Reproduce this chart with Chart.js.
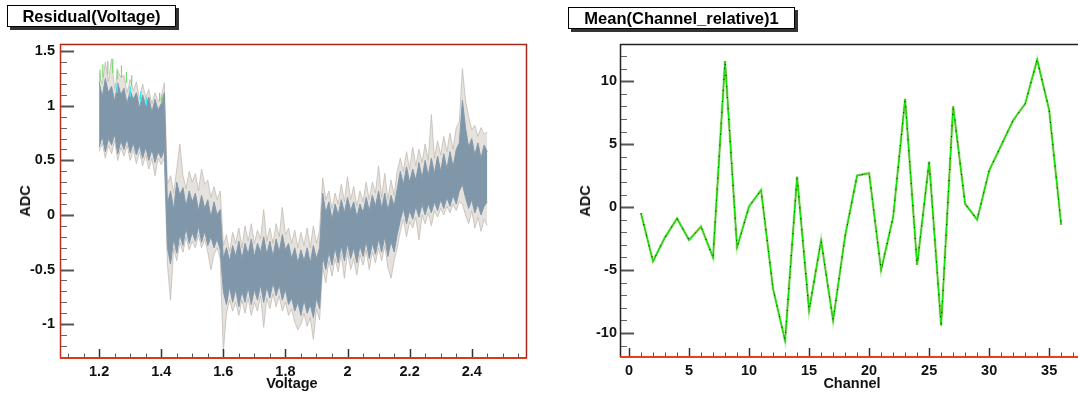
<!DOCTYPE html>
<html>
<head>
<meta charset="utf-8">
<script src="https://cdn.jsdelivr.net/npm/chart.js@4.4.1/dist/chart.umd.min.js"></script>
<style>
  html, body { margin: 0; padding: 0; background: #fff; }
  #wrap { position: relative; width: 1078px; height: 395px; overflow: hidden; font-family: "Liberation Sans", Arial, sans-serif; }
  canvas { position: absolute; top: 0; }
  .title { position: absolute; box-sizing: border-box; height: 22px; line-height: 20px; border: 1px solid #000;
    background: #fff; box-shadow: 3px 3px 0 #333; font-weight: bold; font-size: 16.5px; text-align: center; color: #000; }
  .axt { position: absolute; font-weight: bold; font-size: 14.5px; color: #111; white-space: nowrap; transform: translate(-50%, -50%); }
  .rot { transform: translate(-50%, -50%) rotate(-90deg); }
</style>
</head>
<body>
<div id="wrap">
  <canvas id="left" width="540" height="395" style="left:0"></canvas>
  <canvas id="right" width="538" height="395" style="left:540px"></canvas>
  <div class="title" style="left:7px;top:5px;width:169px">Residual(Voltage)</div>
  <div class="title" style="left:568px;top:7px;width:227px">Mean(Channel_relative)1</div>
  <div class="axt rot" style="left:25px;top:201px">ADC</div>
  <div class="axt" style="left:292px;top:383px">Voltage</div>
  <div class="axt rot" style="left:585px;top:201px">ADC</div>
  <div class="axt" style="left:852px;top:383px">Channel</div>
</div>
<script>
// left panel: residual band
const voltage = [
  1.20, 1.21, 1.22, 1.23, 1.24, 1.25, 1.26, 1.27, 1.28, 1.29,
  1.30, 1.31, 1.32, 1.33, 1.34, 1.35, 1.36, 1.37, 1.38, 1.39,
  1.40, 1.41, 1.42, 1.43, 1.44, 1.45, 1.46, 1.47, 1.48, 1.49,
  1.50, 1.51, 1.52, 1.53, 1.54, 1.55, 1.56, 1.57, 1.58, 1.59,
  1.60, 1.61, 1.62, 1.63, 1.64, 1.65, 1.66, 1.67, 1.68, 1.69,
  1.70, 1.71, 1.72, 1.73, 1.74, 1.75, 1.76, 1.77, 1.78, 1.79,
  1.80, 1.81, 1.82, 1.83, 1.84, 1.85, 1.86, 1.87, 1.88, 1.89,
  1.90, 1.91, 1.92, 1.93, 1.94, 1.95, 1.96, 1.97, 1.98, 1.99,
  2.00, 2.01, 2.02, 2.03, 2.04, 2.05, 2.06, 2.07, 2.08, 2.09,
  2.10, 2.11, 2.12, 2.13, 2.14, 2.15, 2.16, 2.17, 2.18, 2.19,
  2.20, 2.21, 2.22, 2.23, 2.24, 2.25, 2.26, 2.27, 2.28, 2.29,
  2.30, 2.31, 2.32, 2.33, 2.34, 2.35, 2.36, 2.37, 2.38, 2.39,
  2.40, 2.41, 2.42, 2.43, 2.44, 2.45
];
// outer spikes (max / min over all traces)
const residMax = [
  1.30, 1.20, 1.40, 1.22, 1.43, 1.15, 1.32, 1.26, 1.28, 1.12, 1.24, 1.14, 1.22, 1.06, 1.20, 1.08, 1.15, 1.02, 1.12, 1.04, 1.08, 1.21,
  0.28, 0.36, 0.20, 0.42, 0.65, 0.36, 0.24, 0.40, 0.30, 0.38, 0.22, 0.42, 0.28, 0.32, 0.16, 0.26, 0.14, 0.22,
  -0.28, -0.18, -0.34, -0.16, -0.26, -0.12, -0.30, -0.10, -0.24, -0.08, -0.26, -0.14, -0.22, 0.05, -0.24, -0.12,
  -0.26, -0.08, -0.20, 0.07, -0.18, -0.12, -0.26, -0.14, -0.30, -0.16, -0.28, -0.12, -0.30, -0.10, -0.26, -0.14,
  0.34, 0.14, 0.22, 0.06, 0.20, 0.10, 0.28, 0.12, 0.35, 0.14, 0.26, 0.08, 0.22, 0.12, 0.30, 0.14, 0.30, 0.20, 0.45, 0.16, 0.38, 0.14, 0.32, 0.18, 0.40,
  0.52, 0.40, 0.58, 0.42, 0.62, 0.45, 0.60, 0.48, 0.65, 0.50, 0.92, 0.52, 0.68, 0.55, 0.72, 0.58, 0.75, 0.60, 0.80, 0.85,
  1.34, 1.05, 0.90, 0.78, 0.82, 0.72, 0.80, 0.74, 0.76
];
const residMin = [
  0.58, 0.66, 0.52, 0.64, 0.56, 0.68, 0.50, 0.62, 0.54, 0.64, 0.50, 0.60, 0.47, 0.58, 0.45, 0.55, 0.42, 0.52, 0.36, 0.52, 0.46, 0.52,
  -0.45, -0.78, -0.30, -0.42, -0.25, -0.34, -0.20, -0.32, -0.24, -0.30, -0.18, -0.30, -0.22, -0.34, -0.50, -0.36, -0.30, -0.40,
  -1.25, -0.90, -0.78, -0.88, -0.80, -0.92, -0.78, -0.90, -0.76, -0.92, -0.80, -0.88, -0.74, -1.03, -0.76, -0.86,
  -0.72, -0.84, -0.74, -0.88, -0.80, -0.92, -0.86, -0.98, -1.05, -1.00, -0.90, -1.02, -0.94, -1.14, -0.86, -0.96,
  -0.48, -0.62, -0.42, -0.56, -0.40, -0.52, -0.36, -0.58, -0.34, -0.50, -0.40, -0.55, -0.36, -0.46, -0.32, -0.50, -0.34, -0.44, -0.30, -0.42, -0.28, -0.48, -0.58, -0.42, -0.30,
  -0.15, -0.04, -0.20, -0.06, -0.12, -0.02, -0.23, 0.00, -0.08, 0.02, -0.10, 0.04, -0.02, 0.06, 0.00, 0.08, 0.02, 0.10, 0.04, 0.12,
  0.10, 0.00, -0.08, 0.04, -0.12, -0.02, -0.15, -0.04, -0.10
];
// dense core of the traces
const coreHigh = [
  1.22, 1.08, 1.25, 1.12, 1.18, 1.04, 1.21, 1.10, 1.16, 1.02, 1.14, 1.06, 1.12, 0.98, 1.10, 1.00, 1.08, 0.94, 1.06, 0.96, 1.02, 1.12,
  0.10, 0.22, 0.05, 0.30, 0.18, 0.25, 0.08, 0.22, 0.12, 0.20, 0.04, 0.18, 0.06, 0.14, -0.02, 0.12, 0.00, 0.05,
  -0.40, -0.30, -0.42, -0.28, -0.38, -0.24, -0.40, -0.26, -0.36, -0.22, -0.38, -0.26, -0.34, -0.20, -0.36, -0.24,
  -0.38, -0.22, -0.34, -0.18, -0.32, -0.26, -0.40, -0.30, -0.44, -0.32, -0.42, -0.30, -0.44, -0.28, -0.40, -0.30,
  0.20, 0.02, 0.12, -0.04, 0.10, 0.00, 0.14, 0.02, 0.16, 0.04, 0.12, -0.02, 0.10, 0.02, 0.16, 0.04, 0.18, 0.08, 0.22, 0.06, 0.20, 0.04, 0.18, 0.08, 0.24,
  0.40, 0.28, 0.44, 0.30, 0.42, 0.32, 0.48, 0.34, 0.50, 0.36, 0.52, 0.38, 0.54, 0.40, 0.56, 0.42, 0.58, 0.44, 0.60, 0.66,
  1.05, 0.80, 0.62, 0.70, 0.55, 0.66, 0.52, 0.64, 0.58
];
const coreLow = [
  0.62, 0.72, 0.58, 0.70, 0.64, 0.74, 0.56, 0.68, 0.60, 0.70, 0.57, 0.66, 0.55, 0.64, 0.52, 0.62, 0.50, 0.60, 0.48, 0.58, 0.52, 0.60,
  -0.30, -0.45, -0.22, -0.35, -0.18, -0.28, -0.12, -0.26, -0.16, -0.24, -0.10, -0.25, -0.15, -0.28, -0.20, -0.30, -0.22, -0.32,
  -0.70, -0.82, -0.66, -0.80, -0.68, -0.84, -0.70, -0.80, -0.66, -0.82, -0.68, -0.78, -0.64, -0.80, -0.66, -0.76,
  -0.62, -0.74, -0.64, -0.78, -0.68, -0.82, -0.76, -0.88, -0.80, -0.92, -0.78, -0.90, -0.82, -0.94, -0.76, -0.86,
  -0.38, -0.50, -0.34, -0.46, -0.30, -0.44, -0.28, -0.42, -0.26, -0.40, -0.30, -0.44, -0.28, -0.38, -0.24, -0.40, -0.26, -0.36, -0.22, -0.34, -0.20, -0.38, -0.24, -0.34, -0.18,
  -0.05, 0.06, -0.08, 0.04, -0.04, 0.08, -0.02, 0.10, 0.00, 0.10, 0.02, 0.12, 0.04, 0.14, 0.06, 0.16, 0.08, 0.18, 0.10, 0.22,
  0.28, 0.16, 0.06, 0.14, 0.02, 0.10, 0.00, 0.08, 0.12
];
// a few coloured traces sticking out on top of the first plateau: [voltage, top, bottom]
const greenSpikes = [
  [1.203, 1.33, 1.22], [1.212, 1.38, 1.26], [1.228, 1.41, 1.29], [1.244, 1.43, 1.30], [1.258, 1.34, 1.24],
  [1.272, 1.37, 1.26], [1.288, 1.31, 1.21], [1.305, 1.28, 1.18], [1.395, 1.12, 1.04], [1.402, 1.10, 1.02]
];
const cyanSpikes = [[1.258, 1.20, 1.12], [1.300, 1.18, 1.08], [1.334, 1.13, 1.04], [1.352, 1.08, 1.00]];
const voltTicks = [1.2, 1.4, 1.6, 1.8, 2.0, 2.2, 2.4];
const residTicks = [-1, -0.5, 0, 0.5, 1, 1.5];

// right panel: mean per channel
const channels = [1, 2, 3, 4, 5, 6, 7, 8, 9, 10, 11, 12, 13, 14, 15, 16, 17, 18,
  19, 20, 21, 22, 23, 24, 25, 26, 27, 28, 29, 30, 31, 32, 33, 34, 35, 36];
const channelMean = [-0.5, -4.3, -2.4, -0.9, -2.6, -1.55, -4.0, 11.6, -3.2, 0.05, 1.35, -6.5,
  -10.6, 2.4, -8.2, -2.65, -9.0, -2.3, 2.5, 2.7, -5.0, -0.8, 8.6, -4.6, 3.6, -9.4,
  8.0, 0.25, -1.0, 2.9, 4.9, 6.9, 8.2, 11.7, 7.7, -1.4];
const channelTicks = [0, 5, 10, 15, 20, 25, 30, 35];
const meanTicks = [-10, -5, 0, 5, 10];

const FONT = { family: '"Liberation Sans", Arial, sans-serif', size: 14.5, weight: 'bold' };

function pts(xs, ys) { return xs.map((x, i) => ({ x: x, y: ys[i] })); }
function segs(list) {
  const out = [];
  list.forEach(([x, a, b]) => { out.push({ x: x, y: a }, { x: x, y: b }, { x: x, y: null }); });
  return out;
}

// ROOT-like frame with inward ticks
const rootFrame = {
  id: 'rootFrame',
  afterDatasetsDraw(chart, args, o) {
    const { ctx, chartArea: a, scales: { x, y } } = chart;
    ctx.save();
    ctx.lineCap = 'butt';
    const line = (x1, y1, x2, y2, c, w) => {
      ctx.strokeStyle = c; ctx.lineWidth = w;
      ctx.beginPath(); ctx.moveTo(x1, y1); ctx.lineTo(x2, y2); ctx.stroke();
    };
    for (let v = Math.ceil(x.min / o.xMinor) * o.xMinor; v <= x.max; v += o.xMinor) {
      const px = Math.round(x.getPixelForValue(v)) + 0.5;
      const major = o.xTicks.some(t => Math.abs(t - v) < 1e-6);
      line(px, a.bottom, px, a.bottom - (major ? 9 : 4.5), major ? '#333' : '#555', major ? 1.5 : 1);
    }
    for (let v = Math.ceil(y.min / o.yMinor) * o.yMinor; v <= y.max; v += o.yMinor) {
      const py = Math.round(y.getPixelForValue(v)) + 0.5;
      const major = o.yTicks.some(t => Math.abs(t - v) < 1e-6);
      line(a.left, py, a.left + (major ? 14 : 7), py, major ? '#555' : '#666', major ? 2 : 1);
    }
    line(a.left, a.top + 0.5, a.right, a.top + 0.5, o.top, 1.5);
    if (o.right) line(a.right - 0.5, a.top, a.right - 0.5, a.bottom, o.right, 1.5);
    line(a.left + 0.5, a.top, a.left + 0.5, a.bottom, o.left, 1.5);
    line(a.left, a.bottom, a.right, a.bottom, o.bottom, 2);
    ctx.restore();
  }
};

function axisX(min, max, ticks, h) {
  return {
    type: 'linear', min: min, max: max,
    grid: { display: false, drawTicks: false }, border: { display: false },
    ticks: { font: FONT, color: '#111', padding: 5, maxRotation: 0,
      callback: v => String(+v.toFixed(2)) },
    afterBuildTicks: s => { s.ticks = ticks.map(v => ({ value: v })); },
    afterFit: s => { s.height = h; }
  };
}
function axisY(min, max, ticks, w, pad) {
  return {
    type: 'linear', min: min, max: max,
    grid: { display: false, drawTicks: false }, border: { display: false },
    ticks: { font: FONT, color: '#111', padding: pad,
      callback: v => String(+v.toFixed(2)) },
    afterBuildTicks: s => { s.ticks = ticks.map(v => ({ value: v })); },
    afterFit: s => { s.width = w; }
  };
}
const common = {
  responsive: false, animation: false, devicePixelRatio: 1,
  plugins: { legend: { display: false }, tooltip: { enabled: false } },
  elements: { point: { radius: 0 }, line: { tension: 0 } }
};

new Chart(document.getElementById('left'), {
  type: 'line',
  data: {
    datasets: [
      { data: pts(voltage, residMin), borderColor: 'rgba(196,188,180,0.8)', borderWidth: 1, fill: false, order: 3 },
      { data: pts(voltage, residMax), borderColor: 'rgba(196,188,180,0.8)', borderWidth: 1, fill: '-1', backgroundColor: 'rgba(212,206,200,0.6)', order: 3 },
      { data: pts(voltage, coreLow), borderColor: '#8398aa', borderWidth: 1, fill: false, order: 2 },
      { data: pts(voltage, coreHigh), borderColor: '#8398aa', borderWidth: 1, fill: '-1', backgroundColor: '#8097aa', order: 2 },
      { data: segs(greenSpikes), borderColor: '#74dc6c', borderWidth: 1.2, spanGaps: false, fill: false, order: 1 },
      { data: segs(cyanSpikes), borderColor: '#3fe6ee', borderWidth: 1.5, spanGaps: false, fill: false, order: 1 }
    ]
  },
  options: Object.assign({}, common, {
    layout: { padding: { left: 0, top: 44, right: 13, bottom: 0 } },
    scales: { x: axisX(1.074, 2.578, voltTicks, 37), y: axisY(-1.31, 1.566, residTicks, 60, 5) },
    plugins: Object.assign({}, common.plugins, {
      rootFrame: { xTicks: voltTicks, yTicks: residTicks, xMinor: 0.05, yMinor: 0.1,
        top: '#a3281c', right: '#a3281c', left: '#c0301c', bottom: '#d83a1c' }
    })
  }),
  plugins: [rootFrame]
});

new Chart(document.getElementById('right'), {
  type: 'line',
  data: {
    datasets: [
      { data: pts(channels, channelMean), borderColor: 'rgba(150,240,150,0.7)', borderWidth: 3, fill: false, order: 4 },
      { data: pts(channels, channelMean), borderColor: '#e8402c', borderWidth: 1.2, fill: false, order: 3 },
      { data: pts(channels, channelMean), borderColor: '#00f000', borderWidth: 1.2, fill: false, order: 2 },
      { data: pts(channels, channelMean), borderColor: '#111', borderWidth: 1, borderDash: [1, 10], fill: false, order: 1 }
    ]
  },
  options: Object.assign({}, common, {
    layout: { padding: { left: 0, top: 44, right: 0, bottom: 0 } },
    scales: { x: axisX(-0.75, 37.4, channelTicks, 38), y: axisY(-11.9, 12.95, meanTicks, 80, 3) },
    plugins: Object.assign({}, common.plugins, {
      rootFrame: { xTicks: channelTicks, yTicks: meanTicks, xMinor: 1, yMinor: 1,
        top: '#222', right: null, left: '#222', bottom: '#e8401c' }
    })
  }),
  plugins: [rootFrame]
});
</script>
</body>
</html>
